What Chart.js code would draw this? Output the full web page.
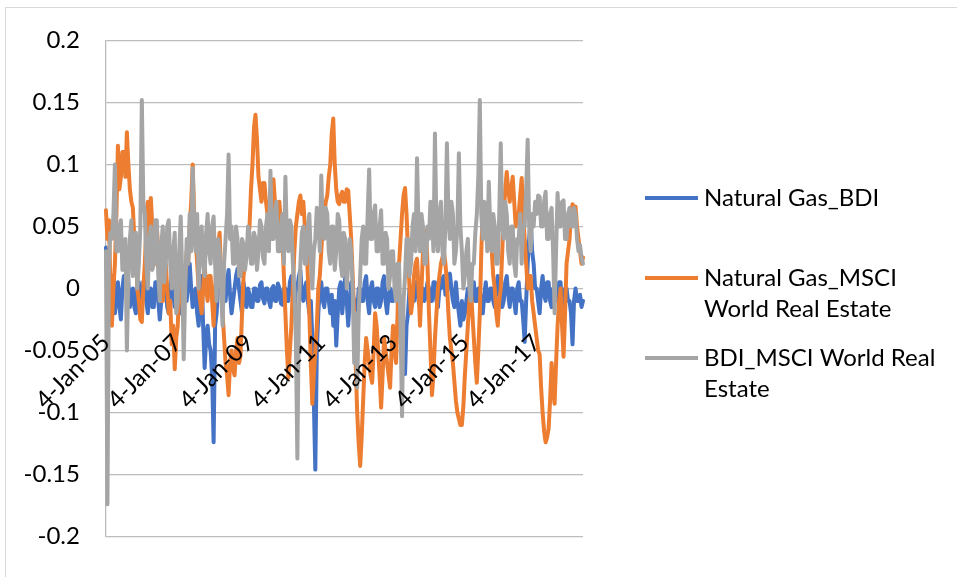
<!DOCTYPE html>
<html><head><meta charset="utf-8">
<script src="https://cdn.jsdelivr.net/npm/chart.js@4.4.1/dist/chart.umd.min.js"></script>
<style>
html,body{margin:0;padding:0;background:#fff;}
#wrap{position:relative;width:957px;height:577px;overflow:hidden;background:#fff;}
#frame{position:absolute;left:5px;top:7px;width:960px;height:590px;border:1px solid #d9d9d9;box-sizing:border-box;}
canvas{position:absolute;left:0;top:0;}
</style></head><body>
<div id="wrap"><div id="frame"></div><canvas id="c" width="957" height="577"></canvas></div>
<script>
// ---- data ----
const seriesNames = ["Natural Gas_BDI", "Natural Gas_MSCI World Real Estate", "BDI_MSCI World Real Estate"];
const legendLines = [["Natural Gas_BDI"], ["Natural Gas_MSCI", "World Real Estate"], ["BDI_MSCI World Real", "Estate"]];
const tickLabels = ["4-Jan-05", "4-Jan-07", "4-Jan-09", "4-Jan-11", "4-Jan-13", "4-Jan-15", "4-Jan-17"];
const yTicks = [-0.2, -0.15, -0.1, -0.05, 0, 0.05, 0.1, 0.15, 0.2];

// two readings per month (4th and 18th), Jan 2005 - Apr 2018
const natGasBDI = [
0.033,0.0,-0.01,-0.02,0.0,0.01,-0.02,-0.005,0.005,-0.015,-0.025,0.0,0.01,0.0,0.024,0.005,-0.015,-0.005,0.0,-0.015,-0.02,0.0,0.005,-0.01,
-0.01,0.005,0.01,-0.01,-0.02,0.0,0.0,-0.015,-0.015,0.005,0.005,-0.01,-0.025,-0.01,-0.005,0.005,0.0,-0.015,-0.02,0.0,0.01,-0.005,-0.015,0.0,
0.0,-0.015,-0.02,0.0,0.005,-0.01,-0.01,0.005,0.02,0.0,-0.015,-0.005,0.0,-0.02,-0.03,-0.01,0.01,-0.03,-0.064,-0.04,-0.03,-0.045,-0.05,-0.07,
-0.124,-0.03,-0.02,0.0,0.0,0.015,0.02,0.0,-0.01,0.005,0.015,-0.005,-0.02,-0.01,0.0,0.01,0.016,0.0,-0.01,-0.02,0.005,-0.005,-0.015,0.0,
-0.005,-0.015,-0.015,0.0,0.0,-0.01,-0.01,0.003,0.005,-0.008,-0.012,0.0,0.0,-0.01,-0.015,0.0,0.002,-0.01,-0.01,0.004,0.0,-0.012,-0.013,0.0,
0.0,-0.01,-0.01,0.005,0.01,-0.005,-0.02,0.0,0.0,0.01,0.015,-0.005,-0.01,0.0,0.005,-0.01,-0.02,-0.01,-0.04,-0.09,-0.146,-0.05,-0.02,0.0,
0.005,-0.01,-0.015,0.0,0.0,-0.01,-0.02,-0.005,-0.03,-0.01,-0.046,-0.02,0.0,0.005,-0.02,-0.005,0.009,-0.01,-0.03,-0.01,0.005,-0.005,-0.01,-0.02,
-0.02,0.0,0.0,-0.01,-0.01,0.005,0.01,-0.01,-0.02,0.0,0.005,-0.01,-0.015,0.0,0.0,-0.015,-0.01,0.005,0.01,-0.01,-0.02,-0.005,0.0,-0.01,
-0.01,0.0,0.005,-0.01,-0.02,-0.03,-0.04,-0.055,-0.069,-0.03,-0.02,0.0,0.0,-0.01,-0.01,0.005,0.005,-0.01,-0.015,0.0,0.0,-0.01,-0.005,0.005,
0.0,-0.01,-0.01,0.005,0.005,-0.01,-0.015,0.0,0.0,0.008,0.01,-0.005,-0.005,0.01,0.012,0.0,-0.01,-0.015,0.005,-0.01,-0.02,-0.03,-0.01,-0.025,
-0.02,-0.01,0.0,-0.015,-0.015,0.0,0.005,-0.01,-0.01,0.0,0.0,-0.02,-0.02,-0.005,0.005,-0.01,-0.01,0.0,0.0,-0.01,-0.015,0.0,0.01,-0.005,
0.0,-0.015,-0.01,0.005,0.01,-0.005,-0.015,0.0,0.0,-0.01,-0.02,0.0,0.005,-0.01,-0.01,-0.025,-0.043,-0.01,0.02,0.04,0.055,0.03,0.02,0.0,
0.0,-0.01,-0.02,0.0,0.01,-0.005,-0.01,0.005,0.005,-0.01,-0.015,0.0,0.0,-0.01,-0.01,0.005,0.005,-0.015,-0.02,0.0,0.0,-0.01,-0.01,-0.02,
-0.045,-0.01,0.0,-0.01,-0.01,-0.005,-0.015,-0.01];

const natGasMSCI = [
0.063,0.04,0.055,0.0,-0.03,0.0,0.02,0.06,0.115,0.08,0.09,0.11,0.11,0.09,0.126,0.1,0.08,0.07,0.065,0.04,0.03,0.0,-0.01,-0.025,
-0.027,0.0,0.02,0.05,0.07,0.04,0.073,0.05,0.045,0.02,0.05,0.03,0.01,-0.01,-0.01,0.01,0.02,0.0,-0.02,-0.01,-0.045,-0.03,-0.065,-0.04,
-0.03,0.0,0.01,-0.01,-0.02,0.01,0.03,0.02,0.05,0.07,0.1,0.06,0.04,0.02,0.0,-0.01,-0.02,0.0,0.02,0.0,-0.01,0.01,0.01,-0.01,
-0.03,0.0,0.02,0.035,0.045,0.01,-0.02,-0.04,-0.06,-0.07,-0.086,-0.06,-0.05,-0.065,-0.07,-0.05,-0.04,-0.06,-0.054,-0.02,0.01,0.02,0.03,0.04,
0.05,0.08,0.1,0.13,0.14,0.12,0.09,0.08,0.07,0.085,0.085,0.07,0.06,0.065,0.075,0.06,0.088,0.07,0.05,0.06,0.07,0.05,0.04,0.01,
-0.02,-0.05,-0.072,-0.05,-0.03,0.0,0.03,0.05,0.06,0.07,0.075,0.06,0.07,0.05,0.04,0.01,-0.02,-0.06,-0.093,-0.07,-0.05,-0.03,0.0,0.01,
0.03,0.05,0.06,0.07,0.075,0.09,0.1,0.125,0.137,0.1,0.08,0.07,0.068,0.075,0.078,0.07,0.07,0.08,0.079,0.06,0.04,0.01,-0.02,-0.06,
-0.1,-0.125,-0.143,-0.12,-0.09,-0.06,-0.04,-0.05,-0.06,-0.07,-0.076,-0.05,-0.02,-0.03,-0.05,-0.07,-0.096,-0.07,-0.04,-0.05,-0.06,-0.07,-0.08,-0.05,
-0.03,-0.05,-0.06,-0.02,0.02,0.04,0.06,0.075,0.081,0.06,0.03,0.0,-0.02,-0.01,0.01,0.02,0.024,0.0,-0.03,0.0,0.03,0.04,0.047,0.02,
-0.02,-0.05,-0.086,-0.07,-0.04,-0.02,0.0,0.01,0.02,0.025,0.03,0.02,0.005,-0.02,-0.04,-0.05,-0.06,-0.075,-0.09,-0.1,-0.105,-0.11,-0.11,-0.095,
-0.07,-0.05,-0.03,-0.01,0.0,-0.02,-0.04,-0.06,-0.076,-0.05,-0.02,0.03,0.066,0.05,0.04,0.05,0.05,0.035,0.03,0.01,0.0,-0.02,-0.03,-0.01,
0.0,0.03,0.06,0.08,0.094,0.08,0.07,0.08,0.09,0.07,0.05,0.055,0.06,0.075,0.089,0.06,0.04,0.02,0.0,0.01,0.01,-0.01,-0.02,-0.03,
-0.04,-0.05,-0.053,-0.08,-0.1,-0.115,-0.124,-0.12,-0.113,-0.09,-0.06,-0.08,-0.093,-0.06,-0.03,-0.01,0.0,-0.03,-0.055,-0.02,0.02,0.03,0.04,0.06,
0.068,0.06,0.066,0.05,0.04,0.03,0.02,0.025];

const bdiMSCI = [
0.03,-0.174,0.02,0.045,0.04,0.06,0.10,0.03,0.03,0.05,0.055,0.015,0.02,0.04,-0.05,0.01,0.04,0.055,0.01,0.03,0.045,0.0,0.02,0.05,
0.152,0.07,0.06,0.02,0.0,0.04,0.05,0.015,0.02,0.055,0.055,0.01,-0.01,0.035,0.05,0.005,0.02,0.05,0.055,0.02,0.0,0.03,0.045,-0.02,
-0.01,0.03,0.058,0.01,-0.057,0.0,0.04,0.02,0.06,0.03,0.097,0.05,0.03,0.06,0.0,0.04,0.05,0.02,0.01,0.045,0.06,0.03,0.02,0.05,
0.058,0.02,-0.01,0.04,0.03,0.0,-0.03,0.02,0.04,0.06,0.108,0.04,0.05,0.02,0.02,0.05,0.04,0.01,0.01,0.04,0.035,0.015,0.025,0.05,
0.045,0.02,0.02,0.045,0.04,0.015,0.03,0.055,0.05,0.025,0.02,0.05,0.06,0.03,0.095,0.04,0.04,0.06,0.07,0.03,0.03,0.05,0.06,0.02,
0.09,0.04,0.03,0.055,0.05,0.02,0.0,-0.04,-0.137,-0.02,0.02,0.045,0.05,0.02,0.02,0.05,0.06,0.025,0.0,0.03,0.04,0.065,0.06,0.03,
0.091,0.05,0.04,0.065,0.06,0.03,0.02,0.05,0.05,0.015,0.03,0.06,0.055,0.02,0.01,0.045,0.04,0.0,0.02,0.04,0.03,0.0,-0.06,-0.02,
-0.08,-0.02,0.01,0.04,0.05,0.02,0.02,0.06,0.096,0.04,0.04,0.06,0.067,0.03,0.03,0.05,0.063,0.02,0.02,0.045,0.04,0.0,0.01,0.03,
0.03,0.0,-0.01,0.02,0.02,-0.03,-0.103,-0.01,0.01,0.04,0.04,0.01,0.02,0.05,0.06,0.03,0.105,0.05,0.03,0.06,0.05,0.02,0.02,0.05,
0.04,0.07,0.06,0.03,0.125,0.05,0.03,0.06,0.07,0.03,0.02,0.05,0.117,0.06,0.04,0.07,0.06,0.02,0.03,0.05,0.109,0.05,0.03,0.0,
0.01,0.03,0.04,0.0,-0.01,0.02,0.02,0.045,0.06,0.09,0.152,0.06,0.04,0.07,0.06,0.03,0.086,0.05,0.03,0.06,0.05,0.02,0.02,0.06,
0.117,0.05,0.04,0.07,0.06,0.03,0.02,0.05,0.05,0.02,0.01,0.04,0.04,0.06,0.02,0.05,0.05,0.08,0.12,0.05,0.03,0.06,0.05,0.07,
0.06,0.075,0.074,0.05,0.05,0.07,0.078,0.04,0.04,0.06,0.065,0.03,-0.02,0.03,0.077,0.05,0.05,0.07,0.071,0.04,0.04,0.06,0.065,0.05,
0.05,0.065,0.06,0.04,0.03,0.035,0.025,0.02];

const monthNames = ["Jan","Feb","Mar","Apr","May","Jun","Jul","Aug","Sep","Oct","Nov","Dec"];
const categories = [];
for (let i = 0; i < bdiMSCI.length; i++) {
  const d = new Date(2005, Math.floor(i / 2), i % 2 === 0 ? 4 : 18);
  categories.push(d.getDate() + "-" + monthNames[d.getMonth()] + "-" + String(d.getFullYear()).slice(2));
}

// ---- styling ----
const colors = ["#4472C4", "#ED7D31", "#A5A5A5"];
const FONT = "Lato";

const legendPlugin = {
  id: "sideLegend",
  afterDraw(chart) {
    const ctx = chart.ctx;
    const rows = [198, 278, 358];
    ctx.save();
    ctx.font = "24px " + FONT;
    ctx.textBaseline = "middle";
    ctx.textAlign = "left";
    chart.data.datasets.forEach((ds, k) => {
      ctx.strokeStyle = ds.borderColor;
      ctx.lineWidth = 4;
      ctx.lineCap = "butt";
      ctx.beginPath();
      ctx.moveTo(645, rows[k]);
      ctx.lineTo(698, rows[k]);
      ctx.stroke();
      ctx.fillStyle = "#000";
      legendLines[k].forEach((t, j) => ctx.fillText(t, 704, rows[k] + j * 31));
    });
    ctx.restore();
  }
};

const seriesData = [natGasBDI, natGasMSCI, bdiMSCI];
new Chart(document.getElementById("c"), {
  type: "line",
  data: {
    labels: categories,
    datasets: seriesData.map((d, k) => ({
      label: seriesNames[k],
      data: d,
      borderColor: colors[k],
      backgroundColor: colors[k],
      borderWidth: 4,
      pointRadius: 0,
      tension: 0,
      borderJoinStyle: "round",
      borderCapStyle: "round",
      order: 3 - k
    }))
  },
  options: {
    responsive: false,
    animation: false,
    layout: { padding: { left: 0, top: 37, right: 374, bottom: 25 } },
    plugins: { legend: { display: false }, tooltip: { enabled: false } },
    scales: {
      x: {
        type: "category",
        position: { y: 0 },
        grid: { display: false, drawTicks: false },
        border: { display: false },
        ticks: {
          z: 1,
          autoSkip: false, maxRotation: 45, minRotation: 45, padding: 40,
          color: "#000", font: { family: FONT, size: 24 },
          callback: (v, i) => tickLabels.includes(categories[i]) ? categories[i] : ""
        }
      },
      y: {
        min: yTicks[0], max: yTicks[yTicks.length - 1],
        afterBuildTicks: s => { s.ticks = yTicks.map(v => ({ value: v })); },
        afterFit: s => { s.width = 103; },
        grid: { color: "#bcbcbc", lineWidth: 1.3, drawTicks: false },
        border: { display: true, color: "#bcbcbc", width: 1.3 },
        ticks: {
          padding: 26, color: "#000", font: { family: FONT, size: 24 },
          callback: v => String(parseFloat(Number(v).toFixed(2)))
        }
      }
    }
  },
  plugins: [legendPlugin]
});
</script>
</body></html>
